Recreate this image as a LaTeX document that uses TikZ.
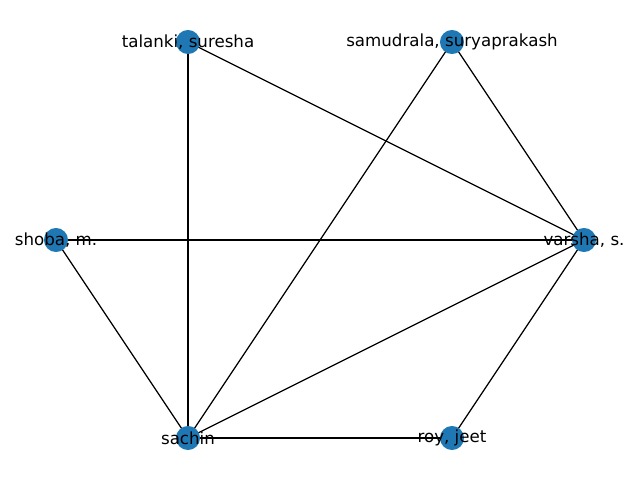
\documentclass[tikz,border=0pt]{standalone}
\usepackage{fontspec}
\setmainfont{DejaVu Sans}
\definecolor{nodeblue}{HTML}{1F77B4}
\begin{document}
\begin{tikzpicture}[x=0.72pt,y=-0.72pt,
  vert/.style={circle,fill=nodeblue,draw=none,minimum size=17.3pt,inner sep=0pt},
  lab/.style={font=\fontsize{12pt}{14pt}\selectfont,inner sep=0pt,text=black},
  edge/.style={draw=black,line width=0.9pt}]
\useasboundingbox (0,0) rectangle (640,480);
\coordinate (t) at (188,42);
\coordinate (s) at (452,42);
\coordinate (m) at (56,240);
\coordinate (v) at (584,240);
\coordinate (c) at (188,438);
\coordinate (r) at (452,438);
\draw[edge] (t) -- (c);
\draw[edge] (t) -- (v);
\draw[edge] (s) -- (c);
\draw[edge] (s) -- (v);
\draw[edge] (m) -- (v);
\draw[edge] (m) -- (c);
\draw[edge] (c) -- (v);
\draw[edge] (c) -- (r);
\draw[edge] (r) -- (v);
\node[vert] (nt) at (t) {};
\node[vert] (ns) at (s) {};
\node[vert] (nm) at (m) {};
\node[vert] (nv) at (v) {};
\node[vert] (nc) at (c) {};
\node[vert] (nr) at (r) {};
\node[lab] (lt) at (t) {talanki, suresha};
\node[lab] (ls) at (s) {samudrala, suryaprakash};
\node[lab] (lm) at (m) {shoba, m.};
\node[lab] (lv) at (v) {varsha, s.};
\node[lab] (lc) at (c) {sachin};
\node[lab] (lr) at (r) {roy, jeet};
\end{tikzpicture}
\end{document}
